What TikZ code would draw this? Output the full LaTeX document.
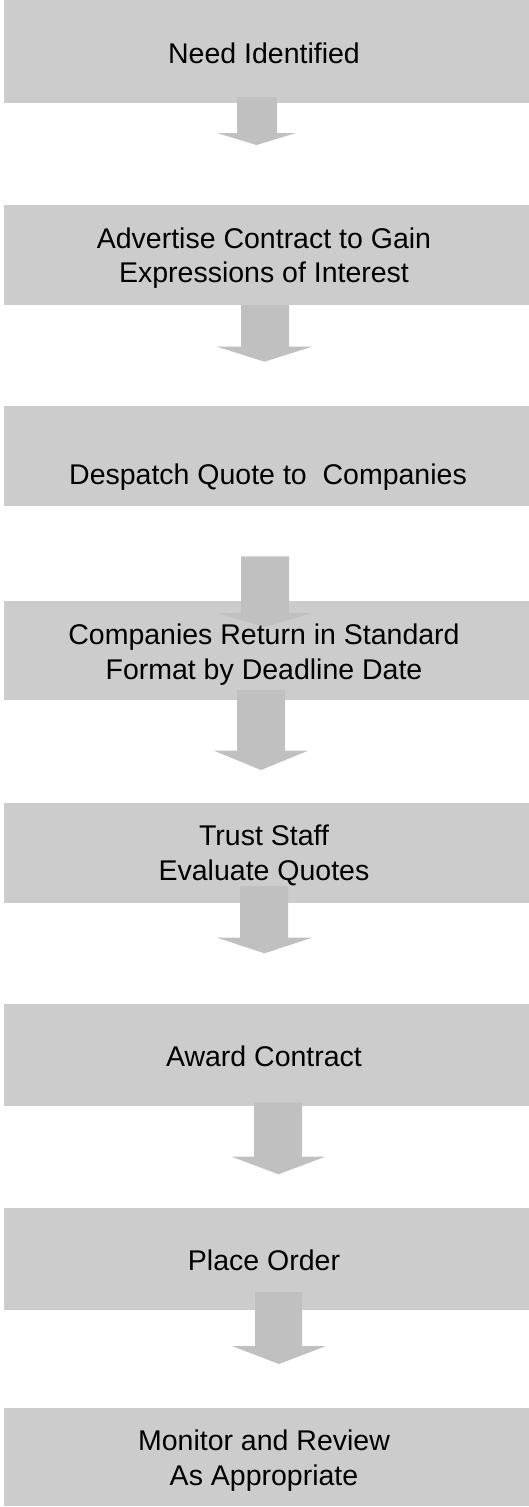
\documentclass[tikz,border=0pt]{standalone}
\usepackage{fontspec}
\setmainfont{Liberation Sans}
\definecolor{boxgray}{HTML}{CCCCCC}
\definecolor{arrowgray}{HTML}{C0C0C0}
\tikzset{
  stepbox/.style={fill=boxgray, draw=none, rectangle, inner sep=0pt, anchor=north west},
  steptext/.style={anchor=base, align=center, inner sep=0pt, font=\fontsize{28.5}{34.5}\selectfont},
  blockarrow/.style={fill=arrowgray, draw=none}
}
\newcommand{\blkarrow}[7]{%
  \fill[blockarrow] (#1,#3) -- (#2,#3) -- (#2,#4) -- (#6,#4) -- ({(#5+#6)/2},#7) -- (#5,#4) -- (#1,#4) -- cycle;}
\begin{document}
\begin{tikzpicture}[x=1pt,y=-1pt]
\useasboundingbox (0,0) rectangle (529,1507);
% boxes
\node[stepbox, minimum width=525pt, minimum height=103pt] (b1) at (4,0) {};
\node[stepbox, minimum width=525pt, minimum height=100pt] (b2) at (4,205) {};
\node[stepbox, minimum width=525pt, minimum height=100pt] (b3) at (4,406) {};
\node[stepbox, minimum width=525pt, minimum height=99pt] (b4) at (4,601) {};
\node[stepbox, minimum width=525pt, minimum height=100pt] (b5) at (4,803) {};
\node[stepbox, minimum width=525pt, minimum height=102pt] (b6) at (4,1004) {};
\node[stepbox, minimum width=525pt, minimum height=102pt] (b7) at (4,1208) {};
\node[stepbox, minimum width=525pt, minimum height=98pt] (b8) at (4,1408) {};
% block arrows
\blkarrow{237}{277}{97}{133}{217}{296}{145}
\blkarrow{241}{289}{305}{346.7}{217}{312}{361.7}
\blkarrow{241}{289}{556.3}{613}{217}{312}{627}
\blkarrow{237}{285}{690}{750.7}{214}{308}{770}
\blkarrow{240}{288}{886}{937.7}{217}{312}{953.3}
\blkarrow{254}{302}{1102.7}{1156.7}{231.7}{325.3}{1174.3}
\blkarrow{255}{302}{1292}{1346}{232}{326}{1364}
% texts (base anchor = baseline of last line)
\node[steptext] (t1) at (264,63.3) {Need Identified};
\node[steptext] (t2) at (264,282.8) {Advertise Contract to Gain\\Expressions of Interest};
\node[steptext] (t3) at (268,484) {Despatch Quote to\ \ Companies};
\node[steptext] (t4) at (264,679) {Companies Return in Standard\\Format by Deadline Date};
\node[steptext] (t5) at (264,880) {Trust Staff\\Evaluate Quotes};
\node[steptext] (t6) at (264,1066) {Award Contract};
\node[steptext] (t7) at (264,1270) {Place Order};
\node[steptext] (t8) at (264,1485) {Monitor and Review\\As Appropriate};
\end{tikzpicture}
\end{document}
